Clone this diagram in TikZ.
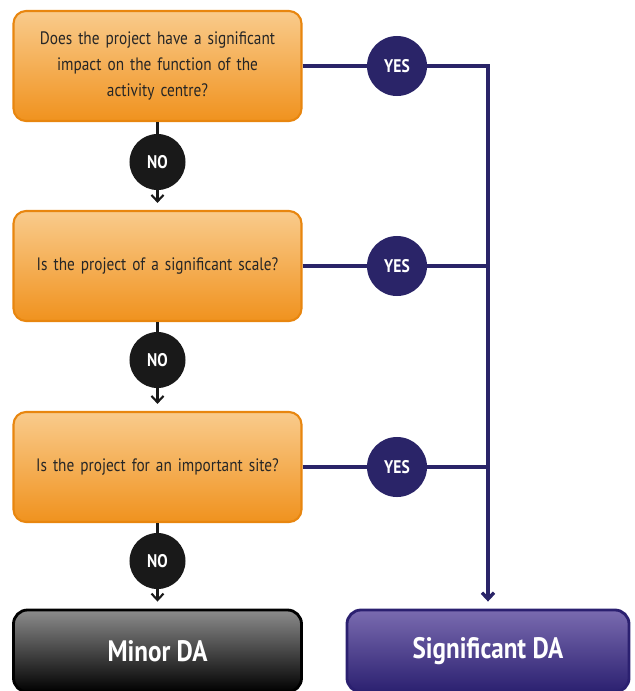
\documentclass[tikz,border=0pt]{standalone}
\usepackage{fontspec}
\setmainfont{PT Sans}[FakeStretch=0.85]
\usetikzlibrary{arrows.meta}

\definecolor{qorange}{HTML}{F0921E}
\definecolor{qlight}{HTML}{F9CB8C}
\definecolor{qedge}{HTML}{E8860F}
\definecolor{navy}{HTML}{2A2468}
\definecolor{sigtop}{HTML}{7A6BB0}
\definecolor{sigbot}{HTML}{2B2070}
\definecolor{qtext}{HTML}{262626}

\begin{document}
\begin{tikzpicture}[x=0.025cm, y=-0.025cm,
  question/.style={rectangle, draw=qedge, line width=1.5pt, rounded corners=9pt,
                   top color=qlight, bottom color=qorange, minimum width=7.2cm,
                   minimum height=2.75cm, text width=6.6cm, align=center,
                   text=qtext, font=\fontsize{12.8}{18.5}\selectfont},
  nobub/.style={circle, fill=black!90, minimum size=1.4cm, inner sep=0pt,
                text=white, font=\bfseries\fontsize{13}{13}\selectfont},
  yesbub/.style={nobub, fill=navy, minimum size=1.5cm},
  outcome/.style={rectangle, rounded corners=10pt, line width=2pt,
                  minimum height=2.05cm, text=white,
                  font=\bfseries\fontsize{21}{21}\selectfont},
  noline/.style={line width=1.5pt, black!90},
  yesline/.style={line width=2.4pt, navy},
  tip/.style={-{Straight Barb[length=1.6mm, width=3mm]}, shorten >=5pt}
]
  \useasboundingbox (0,0) rectangle (634,691);

  % questions
  \node[question] (q1) at (157.5, 66)
    {Does the project have a significant\\ impact on the function of the\\ activity centre?};
  \node[question] (q2) at (157.5, 266) {Is the project of a significant scale?};
  \node[question] (q3) at (157.5, 467) {Is the project for an important site?};

  % outcomes
  \node[outcome, draw=black, top color=black!45, bottom color=black,
        minimum width=7.2cm] (minor) at (157.5, 651) {Minor DA};
  \node[outcome, draw=sigbot, top color=sigtop, bottom color=sigbot,
        minimum width=7.05cm] (sig) at (488, 651) {Significant DA};

  % NO branch
  \foreach \i/\y in {1/162, 2/360, 3/561} {
    \node[nobub] (no\i) at (157.5, \y) {NO};
    \draw[noline] (q\i) -- (no\i);
  }
  \draw[noline, tip] (no1) -- (q2);
  \draw[noline, tip] (no2) -- (q3);
  \draw[noline, tip] (no3) -- (minor);

  % YES branch
  \foreach \i/\y in {1/66, 2/266, 3/467} {
    \node[yesbub] (yes\i) at (397, \y) {YES};
    \draw[yesline] (q\i) -- (yes\i);
  }
  \draw[yesline, tip] (yes1) -| (sig.north);
  \draw[yesline] (yes2) -- (yes2 -| sig.north);
  \draw[yesline] (yes3) -- (yes3 -| sig.north);
\end{tikzpicture}
\end{document}
